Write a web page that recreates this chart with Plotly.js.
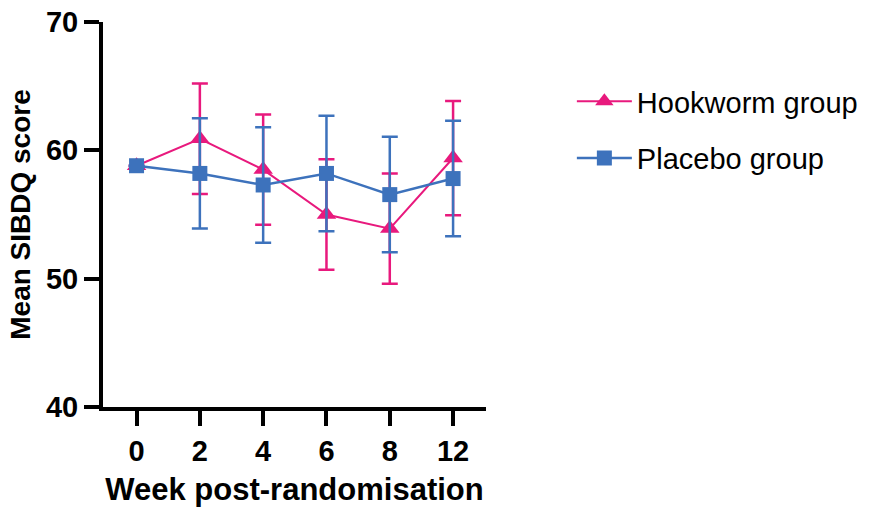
<!DOCTYPE html>
<html>
<head>
<meta charset="utf-8">
<script src="https://cdn.plot.ly/plotly-3.0.1.min.js"></script>
<style>html,body{margin:0;padding:0;background:#fff;}#chart{width:874px;height:507px;}</style>
</head>
<body>
<div id="chart"></div>
<script>
var weeks = ["0", "2", "4", "6", "8", "12"];
var hookwormMean = [58.8, 60.9, 58.5, 55.0, 53.9, 59.4];
var hookwormErr = [0, 4.3, 4.3, 4.3, 4.3, 4.45];
var placeboMean = [58.8, 58.2, 57.3, 58.2, 56.55, 57.8];
var placeboErr = [0, 4.3, 4.5, 4.5, 4.5, 4.5];
var yTicks = [40, 50, 60, 70];

var pink = "#E8197D";
var blue = "#3D72BC";

var traces = [
  {
    x: weeks, y: hookwormMean, name: "Hookworm group", type: "scatter", mode: "lines+markers",
    line: {color: pink, width: 2},
    marker: {symbol: "triangle-up", size: 17, color: pink},
    error_y: {type: "data", array: hookwormErr, visible: true, color: pink, thickness: 2.5, width: 8},
    legendgroup: "a"
  },
  {
    x: weeks, y: placeboMean, name: "Placebo group", type: "scatter", mode: "lines+markers",
    line: {color: blue, width: 2.5},
    marker: {symbol: "square", size: 15, color: blue},
    error_y: {type: "data", array: placeboErr, visible: true, color: blue, thickness: 2.5, width: 8},
    legendgroup: "b"
  }
];

var layout = {
  width: 874, height: 507,
  margin: {l: 103, r: 387, t: 22, b: 100},
  paper_bgcolor: "#fff", plot_bgcolor: "#fff",
  font: {family: "Liberation Sans, Arial, sans-serif", color: "#000"},
  showlegend: true,
  legend: {
    x: 1.221, y: 0.86, xanchor: "left", yanchor: "top",
    font: {size: 29, color: "#000"},
    itemwidth: 55, traceorder: "grouped", tracegroupgap: 16,
    bgcolor: "rgba(0,0,0,0)"
  },
  xaxis: {
    type: "category", range: [-0.53, 5.52],
    showline: true, linecolor: "#000", linewidth: 4,
    ticks: "outside", ticklen: 15, tickwidth: 4, tickcolor: "#000",
    tickfont: {size: 29, weight: "bold", color: "#000"},
    showgrid: false, zeroline: false, automargin: false,
    title: {text: "Week post-randomisation", font: {size: 31, weight: "bold", color: "#000"}, standoff: 17}
  },
  yaxis: {
    range: [40, 70], tickvals: yTicks, ticktext: yTicks.map(String),
    showline: true, linecolor: "#000", linewidth: 4,
    ticks: "outside", ticklen: 15, tickwidth: 4, tickcolor: "#000",
    tickfont: {size: 29, weight: "bold", color: "#000"},
    showgrid: false, zeroline: false, automargin: false,
    title: {text: "Mean SIBDQ score", font: {size: 28, weight: "bold", color: "#000"}, standoff: 8}
  }
};

Plotly.newPlot("chart", traces, layout, {displayModeBar: false, staticPlot: true});
</script>
</body>
</html>
